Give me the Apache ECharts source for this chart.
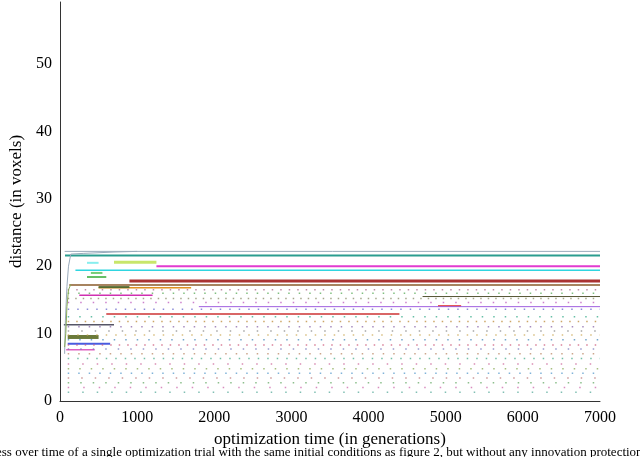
<!DOCTYPE html><html><head><meta charset="utf-8"><script src="https://cdn.jsdelivr.net/npm/echarts@6/dist/echarts.min.js"></script></head><body style="margin:0"><div id="c" style="width:640px;height:457px"></div><script>
const xTicks=[0,1000,2000,3000,4000,5000,6000,7000];
const yTicks=[0,10,20,30,40,50];
// solid segments: [start gen, end gen, distance, colour, width]
const segStart=[60,65,1250,200,900,120,4900,1800,600,100,100,700,350,350,400,500,250,500,50,4700,80];
const segEnd=[7000,7000,7000,7000,7000,7000,5200,7000,4400,500,650,1250,500,600,550,1700,1200,900,700,7000,450];
const segValue=[22.2,21.6,20.0,19.4,17.8,17.2,14.1,14.0,12.9,9.5,8.5,20.6,20.5,18.4,19.0,16.8,15.7,16.9,11.3,15.5,7.6];
const segColor=['#9ab','#2a9d8f','#e23bd0','#2fd5e0','#a33','#8a5a2a','#d22','#a060e0','#c33','#6b7a3a','#4a5be0','#c8e66a','#8ee','#3a3','#7c7','#e09020','#d030b0','#556b2f','#556','#553','#e060c0'];
const segWidth=[1,2,2,1.5,3,1.5,1.5,1,1.5,4,2,3,2,1.5,2,1.5,1.5,2,1.5,1,1.5];
// dotted rows of sporadic points: level and colour
const dotLevel=[16.5,16.0,15.2,14.6,13.6,12.5,11.8,11.0,10.4,9.8,9.1,8.3,7.7,7.0,6.3,5.5,4.8,4.1,3.4,2.7,2.0,1.3];
const dotColor=['#a68','#5a5','#886','#b5b','#66c','#3a8','#b83','#86a','#888','#ca5','#48b','#c57','#77b','#b86','#4a8','#c69','#8a5','#59c','#b77','#6a6','#c6a','#5a9'];
const dotGap=[7,9,6,11,8,10,7,9,12,8,10,7,11,9,8,13,10,9,12,11,14,13];
// early rising traces near the start: [gen, distance]
const riseA=[[60,7],[70,12],[90,17],[110,20],[140,21.8],[300,21.9],[700,22.1],[1000,22.2]];
const riseB=[[60,8],[75,10],[90,14],[110,16.5],[140,17.3]];
const series=[];
for(let i=0;i<segStart.length;i++)series.push({type:'line',data:[[segStart[i],segValue[i]],[segEnd[i],segValue[i]]],symbol:'none',lineStyle:{color:segColor[i],width:segWidth[i]},silent:true});
for(let i=0;i<dotLevel.length;i++)series.push({type:'line',data:[[100,dotLevel[i]],[7000,dotLevel[i]]],symbol:'none',lineStyle:{color:dotColor[i],width:1.5,type:[1.5,dotGap[i]],opacity:0.75},silent:true});
series.push({type:'line',data:riseA,symbol:'none',lineStyle:{color:'#9ab',width:1}});
series.push({type:'line',data:riseB,symbol:'none',lineStyle:{color:'#8a5',width:1}});
const f='Liberation Serif';
echarts.init(document.getElementById('c')).setOption({animation:false,
grid:{left:60,right:40,top:2,bottom:56},
xAxis:{type:'value',min:0,max:7000,interval:1000,name:'optimization time (in generations)',nameLocation:'middle',nameGap:21,nameTextStyle:{fontFamily:f,fontSize:17,color:'#000'},axisLine:{lineStyle:{color:'#333'}},axisTick:{show:false},splitLine:{show:false},axisLabel:{fontFamily:f,fontSize:16,color:'#000',margin:9,formatter:v=>String(v)}},
yAxis:{type:'value',min:0,max:59.2,interval:10,name:'distance (in voxels)',nameLocation:'middle',nameGap:26,nameTextStyle:{fontFamily:f,fontSize:17,color:'#000'},axisLine:{show:true,lineStyle:{color:'#333'}},axisTick:{show:false},splitLine:{show:false},axisLabel:{fontFamily:f,fontSize:16,color:'#000',showMaxLabel:false,margin:8}},
graphic:[{type:'text',left:-4,top:446,style:{text:'ess over time of a single optimization trial with the same initial conditions as figure 2, but without any innovation protection. A',fontFamily:f,fontSize:13,fill:'#000'}}],
series});
</script></body></html>
